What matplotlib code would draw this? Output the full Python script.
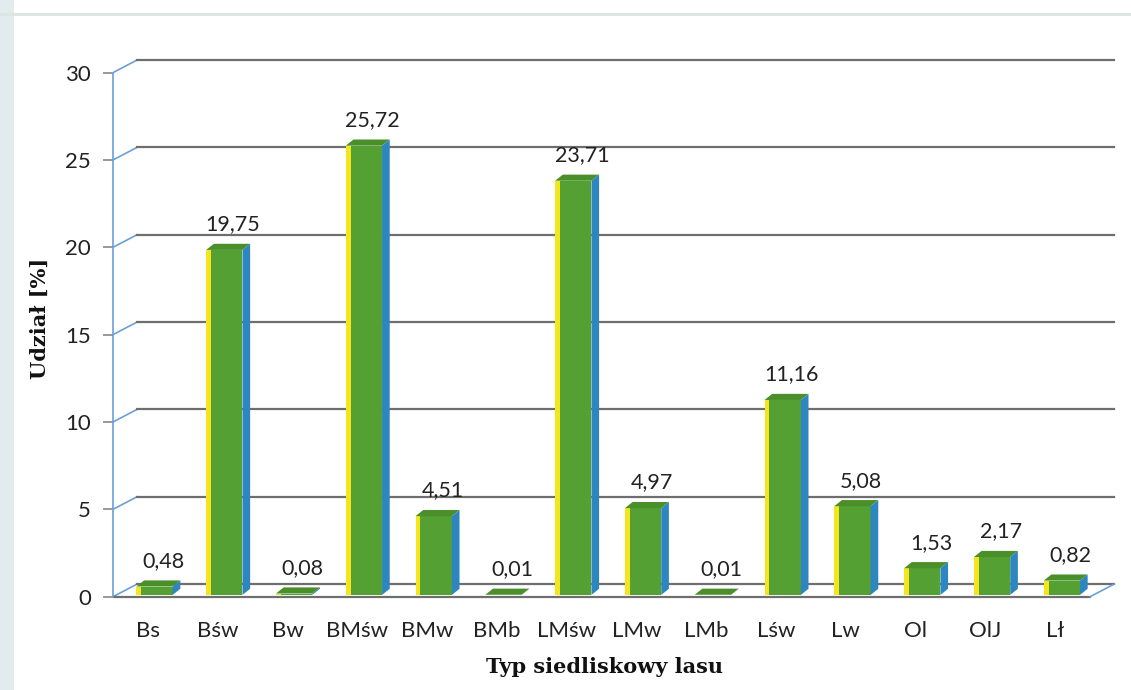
# wykres udziału typów siedliskowych lasu (słupki z efektem 3D)
import numpy as np
import matplotlib.pyplot as plt
from matplotlib.patches import Polygon, Rectangle

# dane
typy = ["Bs", "Bśw", "Bw", "BMśw", "BMw", "BMb", "LMśw", "LMw", "LMb",
        "Lśw", "Lw", "Ol", "OlJ", "Lł"]
udzial = [0.48, 19.75, 0.08, 25.72, 4.51, 0.01, 23.71, 4.97, 0.01,
          11.16, 5.08, 1.53, 2.17, 0.82]
y_ticks = [0, 5, 10, 15, 20, 25, 30]

# wygląd "3D"
dx, dy = 0.345, 0.72        # głębokość ściany tylnej
bx, by = 0.13, 0.10         # przesunięcie słupka w głąb podłogi
ddx, ddy = 0.11, 0.35       # głębokość słupka
w = 0.45                    # szerokość przodu słupka
yw = 0.07                   # żółty pasek z lewej

zielony = "#55a032"
zielony_gora = "#4a8f2a"
niebieski = "#2e86c1"
zolty = "#f4e51c"
siatka = "#6e6e6e"
os_kolor = "#6a9fd8"

plt.rcParams['font.family'] = ['Lato', 'DejaVu Sans']

fig = plt.figure(figsize=(11.31, 6.9), dpi=100)
ax = fig.add_axes([113/1131, 84.6/690, 1012/1131, 559/690])
ax.set_xlim(-0.5, 14.0)
ax.set_ylim(-0.5, 31.5)

x = np.arange(len(typy))
n = len(typy)

# ściana tylna - linie siatki + ukośne połączenia
for t in y_ticks:
    ax.plot([-0.5, -0.5 + dx], [t, t + dy], color=os_kolor, lw=1.2, zorder=1)
    ax.plot([-0.5 + dx, n - 0.5 + dx], [t + dy, t + dy], color=siatka, lw=1.6, zorder=1)

# podłoga
ax.plot([-0.5, n - 0.5], [0, 0], color=siatka, lw=1.6, zorder=1)
ax.plot([n - 0.5, n - 0.5 + dx], [0, dy], color=os_kolor, lw=1.2, zorder=1)

# słupki - przód
x0 = x + bx - w / 2
ax.bar(x0, udzial, width=w, bottom=by, align='edge', color=zielony,
       edgecolor='none', zorder=3)
ax.bar(x0 - yw, udzial, width=yw, bottom=by, align='edge', color=zolty,
       edgecolor='none', zorder=3)

for xi, v in zip(x0, udzial):
    top = by + v
    # góra słupka
    ax.add_patch(Polygon([(xi - yw, top), (xi + w, top), (xi + w + ddx, top + ddy),
                          (xi - yw + ddx, top + ddy)], closed=True,
                         facecolor=zielony_gora, edgecolor='none', zorder=3))
    # bok
    ax.add_patch(Polygon([(xi + w, by), (xi + w + ddx, by + ddy),
                          (xi + w + ddx, top + ddy), (xi + w, top)], closed=True,
                         facecolor=niebieski, edgecolor='none', zorder=3))

# etykiety wartości
for xi, v in zip(x, udzial):
    ax.annotate(f"{v:.2f}".replace(".", ","), (xi + 0.22, by + v + ddy),
                xytext=(0, 14), textcoords='offset points', ha='center',
                va='center', fontsize=15.5, color='#222222', zorder=4)

# osie
for s in ['top', 'right', 'bottom']:
    ax.spines[s].set_visible(False)
ax.spines['left'].set_bounds(0, 30)
ax.spines['left'].set_color(os_kolor)
ax.spines['left'].set_linewidth(1.2)

ax.set_yticks(y_ticks)
ax.set_yticklabels([str(t) for t in y_ticks])
ax.tick_params(axis='y', length=7, width=1.2, color='#888888', pad=9,
               labelsize=16, labelcolor='#222222')
ax.set_xticks(x)
ax.set_xticklabels(typy)
ax.tick_params(axis='x', length=0, pad=11, labelsize=16, labelcolor='#222222')

fig.text(40/1131, 1 - 318/690, "Udział [%]", rotation=90, ha='center', va='center',
         fontsize=15, fontweight='bold', family='DejaVu Serif', color='#111111')
fig.text(605/1131, 1 - 667/690, "Typ siedliskowy lasu", ha='center', va='center',
         fontsize=15, fontweight='bold', family='DejaVu Serif', color='#111111')

# ślad skanu na brzegach
fig.patches.append(Rectangle((0, 0), 14/1131, 1, transform=fig.transFigure,
                             facecolor='#e2ebee', edgecolor='none', zorder=0))
fig.patches.append(Rectangle((0, 1 - 16/690), 1, 3/690, transform=fig.transFigure,
                             facecolor='#dbe5e2', edgecolor='none', zorder=0))

plt.savefig("out.png", dpi=100)
